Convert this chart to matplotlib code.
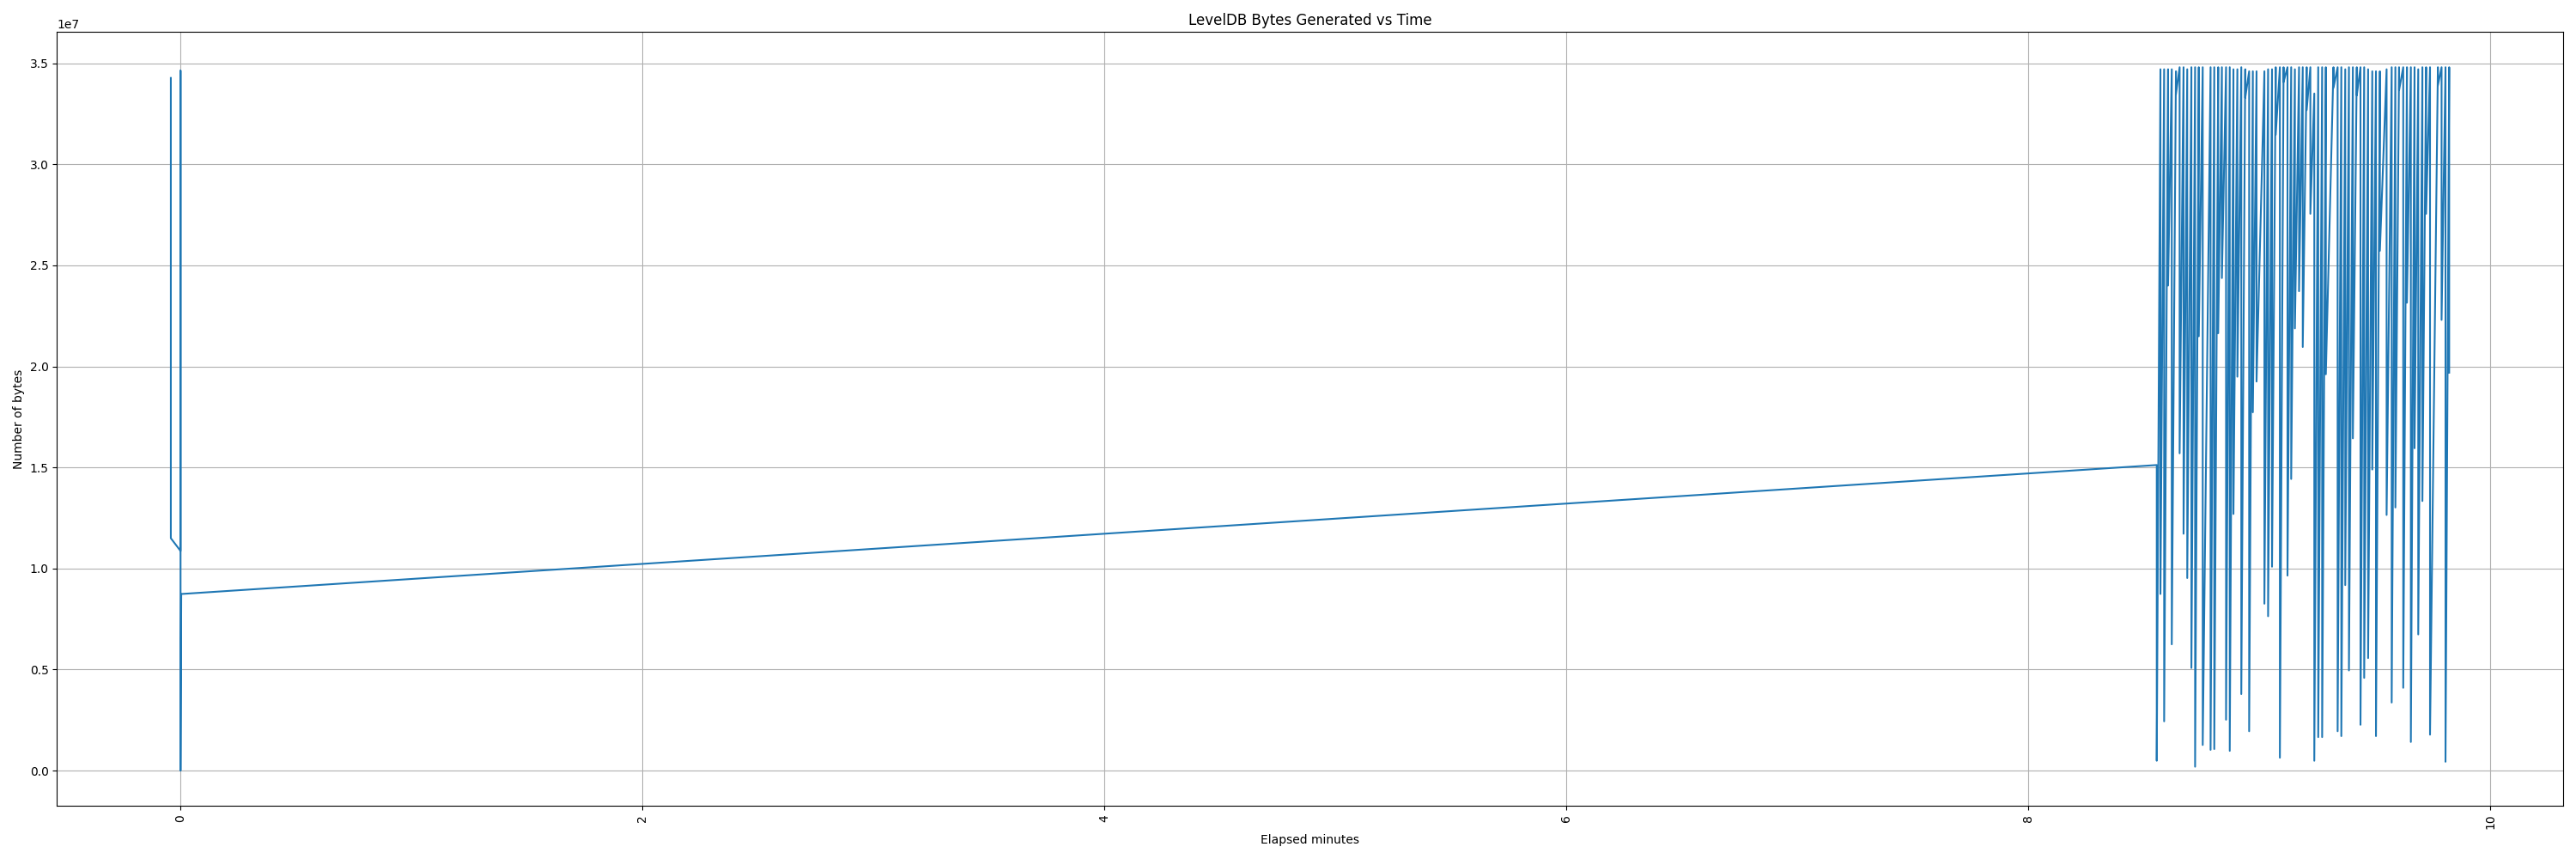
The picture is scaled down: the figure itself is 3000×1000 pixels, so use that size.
import matplotlib
matplotlib.use("Agg")
import matplotlib.pyplot as plt  # type: ignore
import numpy as np  # type: ignore

# start-up samples (elapsed minutes, bytes)
start_minutes = [-0.042, -0.042, 0.0, 0.0, 0.0, 0.003]
start_bytes = [3.427e7, 1.150e7, 1.087e7, 3.463e7, 0.0, 8.74e6]

# burst of compactions near the end: time of each drop, value before it, value it drops to
spike_minutes = [
    8.555, 8.571, 8.587, 8.604, 8.620, 8.638, 8.654, 8.671, 8.687, 8.705,
    8.721, 8.737, 8.754, 8.788, 8.804, 8.821, 8.837, 8.855, 8.871, 8.887,
    8.904, 8.921, 8.938, 8.955, 8.971, 8.987, 9.021, 9.037, 9.054, 9.070,
    9.088, 9.104, 9.121, 9.137, 9.153, 9.171, 9.187, 9.204, 9.220, 9.237,
    9.254, 9.271, 9.287, 9.320, 9.338, 9.354, 9.371, 9.387, 9.404, 9.421,
    9.437, 9.453, 9.470, 9.488, 9.504, 9.521, 9.550, 9.572, 9.588, 9.604,
    9.622, 9.638, 9.655, 9.671, 9.687, 9.705, 9.721, 9.738, 9.772, 9.788,
    9.805, 9.821,
]
spike_tops = [
    1.512e7, 3.47e7, 3.47e7, 3.47e7, 3.47e7, 3.46e7, 3.48e7, 3.48e7, 3.47e7, 3.48e7,
    3.48e7, 3.48e7, 3.48e7, 3.48e7, 3.48e7, 3.48e7, 3.48e7, 3.48e7, 3.48e7, 3.47e7,
    3.47e7, 3.48e7, 3.47e7, 3.46e7, 3.46e7, 3.46e7, 3.46e7, 3.47e7, 3.47e7, 3.48e7,
    3.48e7, 3.48e7, 3.48e7, 3.48e7, 3.47e7, 3.48e7, 3.48e7, 3.48e7, 3.48e7, 3.35e7,
    3.48e7, 3.48e7, 3.48e7, 3.48e7, 3.48e7, 3.48e7, 3.47e7, 3.48e7, 3.48e7, 3.48e7,
    3.48e7, 3.48e7, 3.47e7, 3.46e7, 3.46e7, 3.46e7, 3.47e7, 3.48e7, 3.48e7, 3.48e7,
    3.48e7, 3.48e7, 3.48e7, 3.48e7, 3.47e7, 3.48e7, 3.48e7, 3.48e7, 3.48e7, 3.48e7,
    3.48e7, 3.48e7,
]
spike_lows = [
    4.9e5, 8.74e6, 2.44e6, 2.40e7, 6.25e6, 3.346e7, 1.570e7, 1.172e7, 9.53e6, 5.08e6,
    1.95e5, 2.149e7, 1.27e6, 1.03e6, 1.07e6, 2.164e7, 2.437e7, 2.52e6, 9.8e5, 1.27e7,
    1.949e7, 3.79e6, 3.329e7, 1.95e6, 1.773e7, 1.925e7, 8.26e6, 7.64e6, 1.009e7, 3.146e7,
    6.4e5, 3.407e7, 9.65e6, 1.443e7, 2.188e7, 2.372e7, 2.096e7, 3.268e7, 2.755e7, 4.9e5,
    1.66e6, 1.66e6, 1.961e7, 3.378e7, 1.95e6, 1.71e6, 9.18e6, 4.96e6, 1.644e7, 3.341e7,
    2.27e6, 4.59e6, 5.57e6, 1.49e7, 1.71e6, 2.572e7, 1.265e7, 3.37e6, 1.302e7, 3.366e7,
    4.10e6, 2.315e7, 1.42e6, 1.595e7, 6.74e6, 1.334e7, 2.755e7, 1.78e6, 3.39e7, 2.23e7,
    4.4e5, 1.969e7,
]

minutes = list(start_minutes)
values = list(start_bytes)
for t, top, low in zip(spike_minutes, spike_tops, spike_lows):
    minutes.extend([t, t])
    values.extend([top, low])

fig = plt.figure(figsize=(30, 10), dpi=100)
ax = fig.add_subplot(111)
ax.plot(np.array(minutes), np.array(values))
ax.set_title("LevelDB Bytes Generated vs Time")
ax.set_xlabel("Elapsed minutes")
ax.set_ylabel("Number of bytes")
plt.xticks(rotation=90)
plt.grid()
plt.tight_layout()
fig.savefig("out.png")
plt.close()
